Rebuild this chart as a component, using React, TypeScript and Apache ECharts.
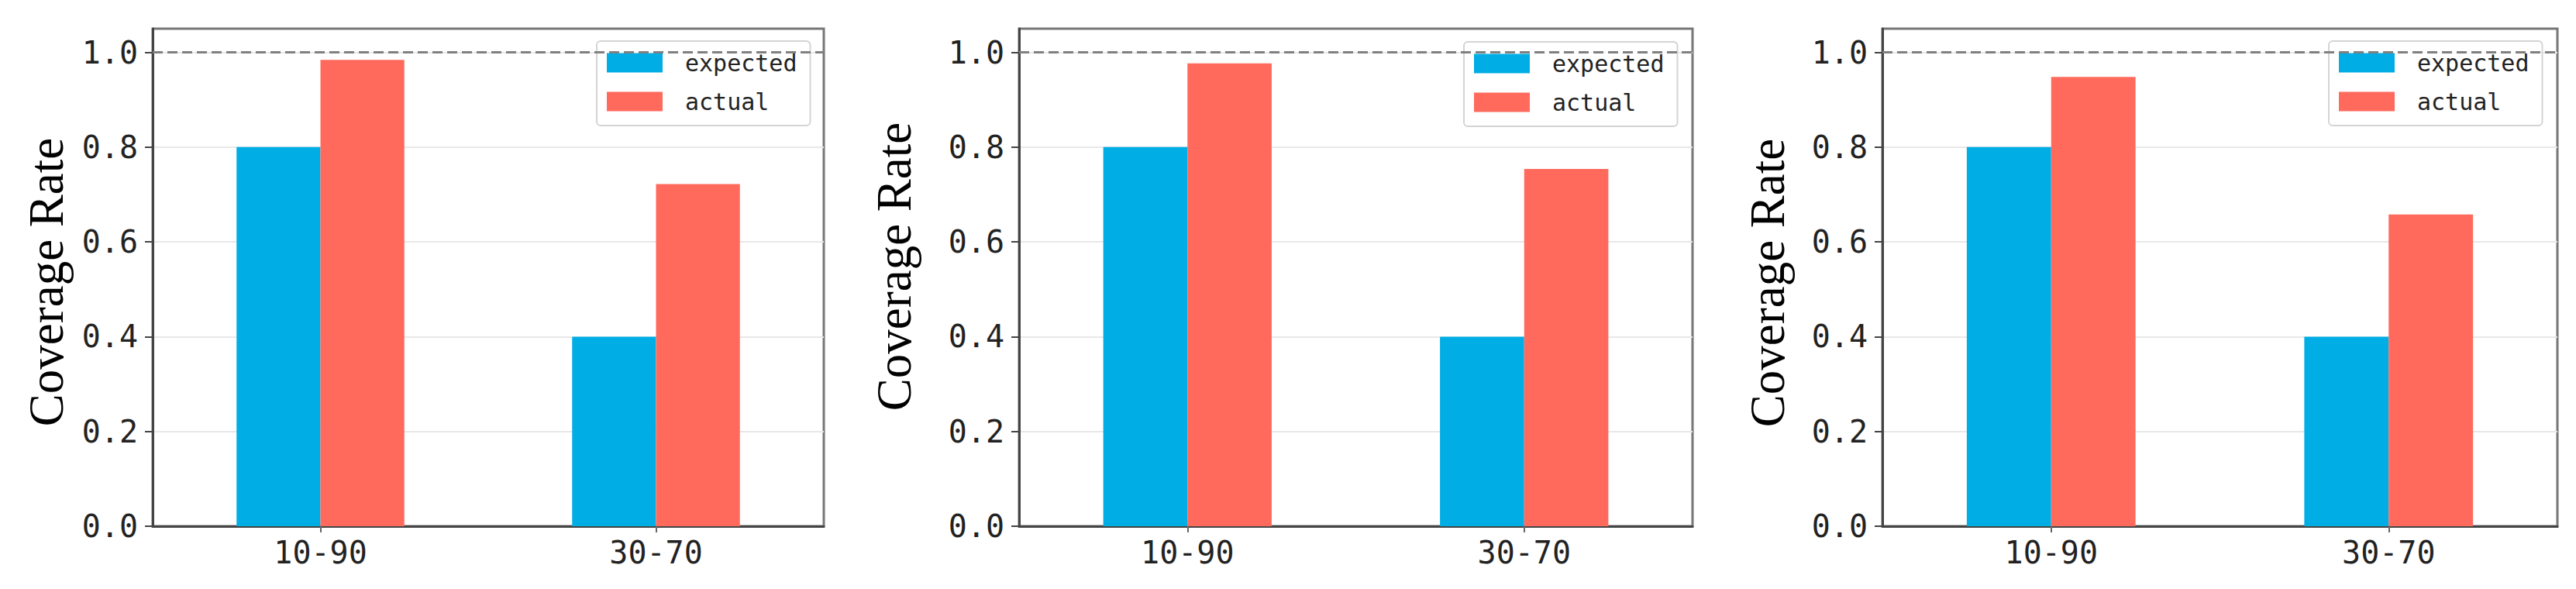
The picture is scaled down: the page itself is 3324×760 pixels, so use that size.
import React, { useEffect, useRef } from "react";
import * as echarts from "echarts";

const categories = ["10-90", "30-70"];
const seriesNames = ["expected", "actual"];
const expected1 = [0.8, 0.4];
const actual1 = [0.984, 0.722];
const expected2 = [0.8, 0.4];
const actual2 = [0.977, 0.754];
const expected3 = [0.8, 0.4];
const actual3 = [0.948, 0.658];
const yTicks = [0, 0.2, 0.4, 0.6, 0.8, 1.0];
const referenceLevel = 1.0;
const yTitle = "Coverage Rate";

const panels = [
  { expected: expected1, actual: actual1 },
  { expected: expected2, actual: actual2 },
  { expected: expected3, actual: actual3 },
];

const BLUE = "#00ADE4";
const RED = "#FF6A5C";
const MONO = "DejaVu Sans Mono";

const grids = [
  { left: 197, right: 3324 - 1063, top: 37, bottom: 81 },
  { left: 1315, right: 3324 - 2184, top: 37, bottom: 81 },
  { left: 2429, right: 3324 - 3300, top: 37, bottom: 81 },
];
const legendPos = [
  { left: 770, top: 53 },
  { left: 1889, top: 54 },
  { left: 3005, top: 53 },
];
const titlePos = [
  { x: 60, y: 364 },
  { x: 1154, y: 344 },
  { x: 2281, y: 365 },
];

export default function App() {
  const ref = useRef<HTMLDivElement>(null);
  useEffect(() => {
    document.body.style.margin = "0";
    const chart = echarts.init(ref.current!, null, { renderer: "svg" });
    const yMax = panels.map((p) => {
      const m = Math.max(...p.expected, ...p.actual);
      return referenceLevel > m ? referenceLevel * 1.05 : m * 1.05;
    });
    const option: any = {
      animation: false,
      backgroundColor: "#ffffff",
      grid: grids.map((g) => ({
        ...g,
        show: true,
        borderColor: "#777777",
        borderWidth: 3,
        backgroundColor: "transparent",
      })),
      xAxis: panels.map((_, i) => ({
        type: "category",
        gridIndex: i,
        data: categories,
        axisLine: { show: true, lineStyle: { color: "#444444", width: 3 } },
        axisTick: { show: true, alignWithLabel: true, length: 8, lineStyle: { color: "#666666", width: 2 } },
        axisLabel: { fontFamily: MONO, fontSize: 40, color: "#222222", margin: 14 },
        splitLine: { show: false },
      })),
      yAxis: panels.map((_, i) => ({
        type: "value",
        gridIndex: i,
        min: 0,
        max: yMax[i],
        interval: 0.2,
        axisLine: { show: true, lineStyle: { color: "#444444", width: 3 } },
        axisTick: { show: true, length: 10, customValues: yTicks, lineStyle: { color: "#444444", width: 2 } },
        axisLabel: {
          customValues: yTicks,
          fontFamily: MONO,
          fontSize: 40,
          color: "#222222",
          margin: 19,
          formatter: (v: number) => v.toFixed(1),
        },
        splitLine: { show: true, lineStyle: { color: "#e8e8e8", width: 2 } },
      })),
      legend: panels.map((_, i) => ({
        data: seriesNames,
        orient: "vertical",
        left: legendPos[i].left,
        top: legendPos[i].top,
        icon: "rect",
        itemWidth: 72,
        itemHeight: 25,
        itemGap: 20,
        padding: [13, 17, 16, 13],
        borderColor: "#d4d4d4",
        borderWidth: 2,
        borderRadius: 5,
        backgroundColor: "rgba(255,255,255,0.8)",
        formatter: (name: string) => `{g|}{t|${name}}`,
        textStyle: {
          fontFamily: MONO,
          fontSize: 30,
          color: "#222222",
          rich: {
            g: { width: 24 },
            t: { fontFamily: MONO, fontSize: 30, color: "#222222" },
          },
        },
        selectedMode: false,
      })),
      graphic: titlePos.map((p) => ({
        type: "text",
        x: p.x,
        y: p.y,
        rotation: Math.PI / 2,
        style: {
          text: yTitle,
          fontFamily: "Liberation Serif",
          fontSize: 63,
          fill: "#000000",
          align: "center",
          verticalAlign: "middle",
        },
      })),
      series: panels.flatMap((p, i) => [
        {
          name: seriesNames[0],
          type: "bar",
          xAxisIndex: i,
          yAxisIndex: i,
          data: p.expected,
          barWidth: "25%",
          barGap: "0%",
          itemStyle: { color: BLUE },
        },
        {
          name: seriesNames[1],
          type: "bar",
          xAxisIndex: i,
          yAxisIndex: i,
          data: p.actual,
          barWidth: "25%",
          barGap: "0%",
          itemStyle: { color: RED },
          markLine: {
            silent: true,
            symbol: "none",
            label: { show: false },
            lineStyle: { type: [13, 6], color: "#808080", width: 3 },
            data: [{ yAxis: referenceLevel }],
          },
        },
      ]),
    };
    chart.setOption(option);
    return () => chart.dispose();
  }, []);
  return (
    <div
      ref={ref}
      style={{ position: "absolute", left: 0, top: 0, width: 3324, height: 760 }}
    />
  );
}
